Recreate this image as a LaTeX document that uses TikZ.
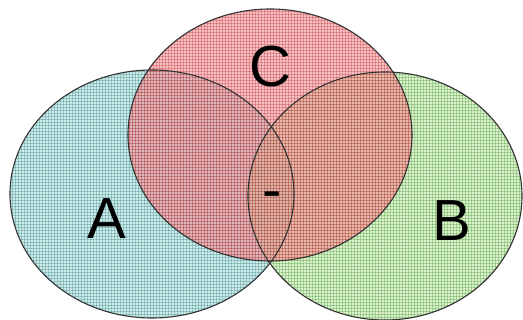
\documentclass[tikz,border=0pt]{standalone}
\usepackage{fontspec}
\setmainfont{Liberation Sans}
\usetikzlibrary{patterns}
\definecolor{setAcol}{HTML}{A8DEDC}
\definecolor{setBcol}{HTML}{C6E6A8}
\definecolor{setCcol}{HTML}{F0949C}
\begin{document}
\begin{tikzpicture}[
x=1pt, y=-1pt,
setfill/.style={fill=#1, fill opacity=0.6},
setgrid/.style={pattern=grid, pattern color=#1, opacity=0.25},
setline/.style={draw=black!80, line width=1.1pt},
letter/.style={font=\fontsize{58}{60}\selectfont, inner sep=0pt}
]
\useasboundingbox (0,0) rectangle (523,320);

% the three sets
\fill[setfill=setAcol] (152,194) ellipse [x radius=142, y radius=124];
\fill[setgrid=teal!70!black] (152,194) ellipse [x radius=142, y radius=124];
\fill[setfill=setBcol] (385,196) ellipse [x radius=137, y radius=124];
\fill[setgrid=green!50!black] (385,196) ellipse [x radius=137, y radius=124];
\fill[setfill=setCcol] (270,135) ellipse [x radius=142, y radius=126];
\fill[setgrid=red!70!black] (270,135) ellipse [x radius=142, y radius=126];

% outlines
\draw[setline] (152,194) ellipse [x radius=142, y radius=124];
\draw[setline] (385,196) ellipse [x radius=137, y radius=124];
\draw[setline] (270,135) ellipse [x radius=142, y radius=126];

% labels
\node[letter] (labelA) at (107,219) {A};
\node[letter] (labelB) at (452,221) {B};
\node[letter] (labelC) at (270,67) {C};
\node[letter] (labelABC) at (272,201) {-};

\end{tikzpicture}
\end{document}
